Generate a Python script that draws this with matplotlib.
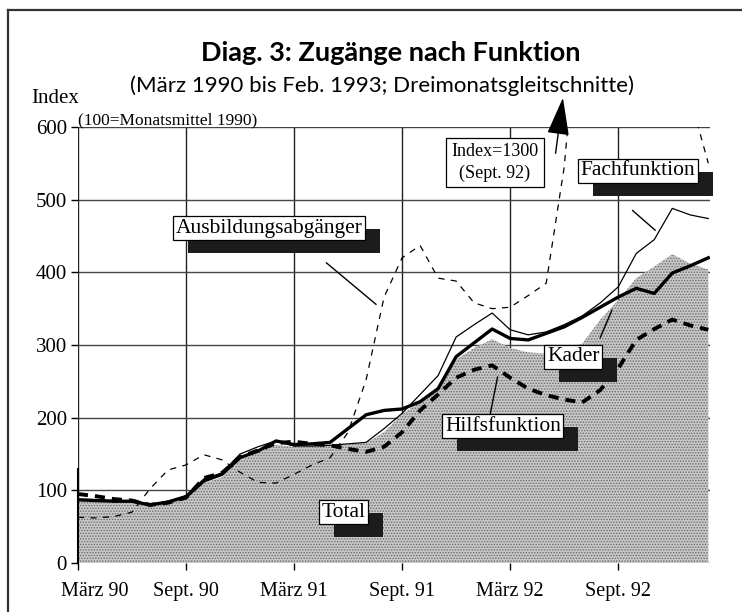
import numpy as np
import matplotlib
matplotlib.use("Agg")
import matplotlib.pyplot as plt
from matplotlib.lines import Line2D
from matplotlib.patches import Rectangle
from matplotlib.transforms import IdentityTransform, offset_copy

# monthly index values, März 1990 .. Feb. 1993 (Dreimonatsgleitschnitte)
tick_pos = [0, 6, 12, 18, 24, 30]
tick_labels = ["März 90", "Sept. 90", "März 91", "Sept. 91", "März 92", "Sept. 92"]

total = [87, 86, 85, 85, 80, 84, 91, 113, 122, 145, 154, 168, 163, 164, 166, 185, 204, 210,
         212, 222, 240, 284, 303, 322, 309, 307, 316, 325, 338, 352, 366, 378, 371, 399, 409, 420]
fach = [88, 87, 86, 86, 80, 85, 93, 116, 124, 150, 160, 168, 161, 161, 162, 164, 166, 185,
        206, 232, 258, 311, 328, 344, 321, 314, 318, 328, 340, 358, 380, 426, 445, 488, 479, 474]
kader = [85, 84, 83, 83, 78, 82, 88, 110, 118, 142, 152, 163, 160, 161, 162, 163, 165, 180,
         205, 222, 238, 280, 296, 308, 296, 290, 288, 295, 302, 335, 362, 392, 408, 425, 412, 404]
hilfs = [95, 92, 88, 86, 80, 83, 90, 117, 124, 146, 155, 165, 167, 164, 162, 157, 153, 160,
         180, 210, 232, 255, 266, 272, 255, 240, 231, 225, 221, 238, 268, 307, 322, 335, 327, 321]
ausb = [63, 62, 64, 70, 102, 128, 135, 149, 142, 125, 111, 110, 122, 135, 145, 180, 252, 366,
        420, 437, 392, 388, 358, 350, 352, 368, 385, 545, 820, 1100, 1300, 1150, 980, 820, 640, 550]

x = np.arange(len(total))

plt.rcParams["font.family"] = ["Liberation Serif", "DejaVu Serif"]
plt.rcParams["hatch.linewidth"] = 0.7

fig = plt.figure(figsize=(7.42, 6.12), dpi=100)
ax = fig.add_axes([0.105, 0.080, 0.852, 0.7125])

ax.set_axisbelow(True)
ax.fill_between(x, 0, kader, facecolor="#c8c8c8", edgecolor="#6a6a6a", hatch="......",
                linewidth=0, zorder=2)
ax.plot(x, ausb, color="black", lw=0.9, ls=(0, (5, 5)), zorder=3)
ax.plot(x, fach, color="black", lw=0.9, zorder=4)
ax.plot(x, hilfs, color="black", lw=2.8, ls=(0, (2.6, 1.8)), zorder=4)
ax.plot(x, total, color="black", lw=2.4, zorder=5)

ax.set_xlim(0, 35.1)
ax.set_ylim(0, 600)
ax.set_xticks(tick_pos)
ax.set_xticklabels(tick_labels, fontsize=14.5)
ax.set_yticks(range(0, 601, 100))
ax.tick_params(axis="y", labelsize=15, length=5, width=1, pad=3)
ax.tick_params(axis="x", length=5, width=1, pad=9)
# first month label sits right of its tick, as on the page
first = ax.get_xticklabels()[0]
first.set_transform(first.get_transform() + offset_copy(IdentityTransform(), fig=fig, x=17, y=0,
                                                        units="dots"))
ax.yaxis.grid(True, color="#444444", lw=1.0)
ax.xaxis.grid(True, color="#222222", lw=1.0)
for s in ax.spines.values():
    s.set_visible(False)
ax.spines["left"].set_visible(True)
ax.spines["left"].set_bounds(0, 130)
ax.spines["left"].set_linewidth(1.5)

boxes = []


def label(xc, yc, txt):
    t = ax.text(xc, yc, txt, ha="center", va="center", fontsize=15.5, zorder=9,
                bbox=dict(boxstyle="square,pad=0.12", fc="white", ec="black", lw=0.9))
    boxes.append(t)


label(10.6, 461, "Ausbildungsabgänger")
ax.plot([13.8, 16.55], [413, 356], color="black", lw=1, zorder=7)
label(31.1, 540, "Fachfunktion")
ax.plot([30.8, 32.05], [485, 458], color="black", lw=1, zorder=7)
label(27.5, 284, "Kader")
ax.plot([29.0, 29.65], [310, 348], color="black", lw=1, zorder=7)
label(23.6, 188, "Hilfsfunktion")
ax.plot([22.9, 23.3], [206, 256], color="black", lw=1, zorder=7)
label(14.75, 70, "Total")

ax.text(23.15, 551, "Index=1300\n(Sept. 92)", ha="center", va="center", fontsize=13,
        linespacing=1.35, zorder=9,
        bbox=dict(boxstyle="square,pad=0.3", fc="white", ec="black", lw=0.9))
ax.annotate("", xy=(26.95, 644), xytext=(26.5, 560), annotation_clip=False,
            arrowprops=dict(arrowstyle="-|>,head_length=1.7,head_width=0.5",
                            color="black", lw=1, mutation_scale=14))

fig.text(0.527, 0.913, "Diag. 3: Zugänge nach Funktion", ha="center", va="center",
         fontsize=19.5, fontweight="bold", family="Lato")
fig.text(0.515, 0.860, "(März 1990 bis Feb. 1993; Dreimonatsgleitschnitte)", ha="center",
         va="center", fontsize=16, family="Lato")
fig.text(0.042, 0.832, "Index", ha="left", va="baseline", fontsize=15)
fig.text(0.105, 0.797, "(100=Monatsmittel 1990)", ha="left", va="baseline", fontsize=12.5)

# scanned page frame (top and left)
fig.add_artist(Line2D([0.011, 1.0], [0.983, 0.983], color="#333333", lw=1.6))
fig.add_artist(Line2D([0.011, 0.011], [0.0, 0.983], color="#333333", lw=1.6))

# dark drop shadows behind the label boxes
fig.canvas.draw()
renderer = fig.canvas.get_renderer()
for t in boxes:
    bb = t.get_bbox_patch().get_window_extent(renderer)
    ax.add_patch(Rectangle((bb.x0 + 15, bb.y0 - 13), bb.width, bb.height,
                           transform=IdentityTransform(), facecolor="#1c1c1c",
                           edgecolor="none", zorder=8, clip_on=False))

fig.savefig("out.png", dpi=100)
